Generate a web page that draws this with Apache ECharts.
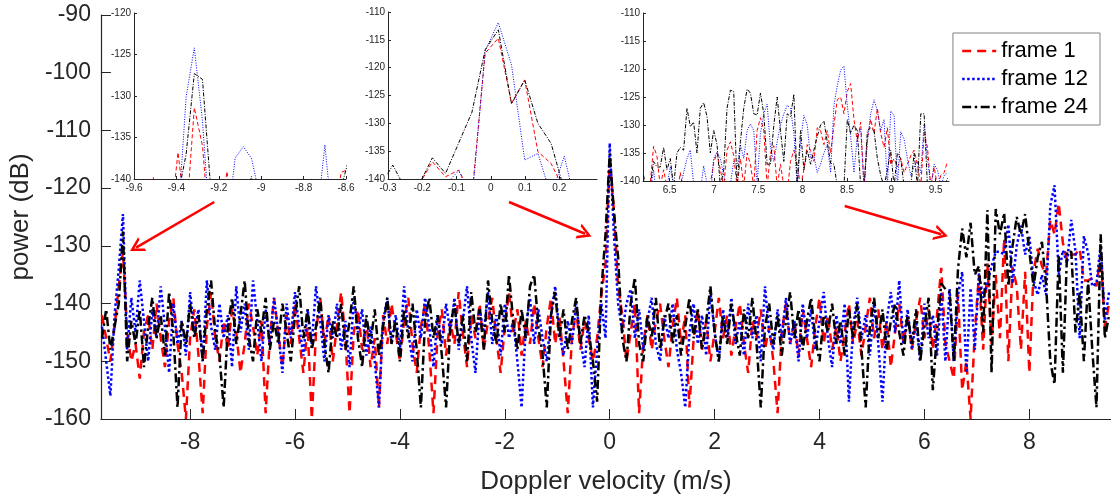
<!DOCTYPE html>
<html><head><meta charset="utf-8">
<script src="https://cdn.jsdelivr.net/npm/echarts@6/dist/echarts.min.js"></script>
<style>html,body{margin:0;padding:0;background:#fff}#c{width:1111px;height:500px}</style>
</head><body><div id="c"></div>
<script>
// ---------- main plot data (x = mainStart + i*mainStep) ----------
const mainStart = -9.68, mainStep = 0.08;
const frame1Main = [
-142,-146,-150,-144,-137,-131,-145,-150,-147,-153,
-145,-142,-148,-140,-146,-151,-143,-139,-147,-152,
-160,-146,-141,-149,-159,-144,-138,-146,-150,-143,
-148,-141,-145,-152,-147,-140,-144,-149,-143,-159,
-146,-139,-145,-151,-142,-147,-140,-146,-152,-144,
-160,-145,-139,-147,-142,-150,-144,-138,-146,-159,
-145,-141,-148,-143,-151,-146,-158,-142,-147,-140,
-145,-150,-143,-139,-147,-152,-144,-140,-148,-159,
-145,-141,-149,-143,-147,-138,-145,-151,-142,-146,
-140,-148,-143,-139,-146,-152,-144,-138,-145,-141,
-149,-143,-147,-140,-146,-151,-144,-139,-147,-142,
-150,-159,-146,-141,-148,-143,-146,-150,-146,-138.5,
-133,-115,-124,-137,-142,-150,-145,-140,-159,-147,
-142,-148,-143,-140,-146,-151,-144,-139,-147,-142,
-158,-146,-141,-148,-143,-150,-145,-139,-146,-142,
-149,-144,-140,-147,-152,-143,-146,-141,-148,-144,
-150,-159,-145,-140,-147,-143,-149,-141,-146,-151,
-144,-139,-147,-142,-148,-144,-150,-145,-140,-147,
-143,-149,-144,-139,-146,-141,-148,-143,-151,-145,
-140,-147,-142,-148,-143,-139,-146,-141,-148,-142,
-133.8,-147,-150,-153,-138.5,-155,-150,-160,-145,-135,
-148,-133,-147,-135,-146,-128.7,-150,-133.7,-137,-148,
-134.5,-152,-134.5,-130.5,-133.5,-135,-125.5,-128,-122.6,-129.5,
-132.5,-131.5,-131.5,-130.5,-136,-136,-135.5,-137,-131.5,-144,
-140];
const frame12Main = [
-144,-150,-156,-142,-134,-124.5,-148,-139,-145,-136,
-143,-150,-141,-146,-137,-144,-152,-140,-147,-143,
-149,-138,-145,-141,-150,-136,-144,-148,-140,-146,
-142,-151,-137,-145,-140,-148,-136,-143,-150,-141,
-147,-139,-145,-152,-140,-146,-138,-144,-149,-141,
-147,-137,-143,-150,-142,-146,-140,-148,-143,-151,
-139,-145,-141,-149,-144,-150,-158,-143,-139,-147,
-142,-148,-137,-145,-150,-141,-146,-139,-144,-151,
-142,-147,-140,-145,-139,-148,-143,-137,-146,-152,
-141,-145,-138,-147,-142,-149,-140,-146,-143,-150,
-158,-144,-139,-147,-141,-146,-150,-142,-137,-145,
-149,-143,-147,-140,-146,-151,-142,-158,-148,-140,
-146,-112.2,-128,-140,-145,-140,-137.5,-146,-141,-148,
-143,-139,-147,-150,-142,-146,-140,-148,-152,-158,
-145,-140,-147,-142,-149,-138,-145,-150,-141,-146,
-139,-147,-143,-149,-140,-146,-142,-150,-137,-145,
-148,-141,-146,-139,-147,-143,-150,-140,-146,-141,
-148,-143,-138,-146,-151,-142,-147,-140,-157,-144,
-139,-146,-142,-149,-140,-147,-157,-143,-138,-145,
-136,-147,-141,-148,-143,-150,-140,-146,-142,-149,
-138,-150,-137.5,-150,-138.5,-134.5,-152,-137.3,-148,-134.8,
-139,-136.5,-133.5,-131,-131,-131.5,-126.3,-136.5,-130,-126.5,
-131.5,-128.3,-136,-138.5,-135,-138.5,-123,-119.5,-135,-130.8,
-133,-125.5,-131,-146,-128.3,-131.2,-137,-136.5,-129.8,-143,
-138];
const frame24Main = [
-146,-141,-148,-144,-140,-127.5,-150,-143,-147,-141,
-151,-144,-139,-146,-142,-149,-138,-145,-158,-143,
-147,-140,-146,-142,-150,-141,-136,-145,-149,-158,
-144,-139,-147,-142,-136,-146,-150,-141,-145,-139,
-148,-143,-147,-140,-145,-150,-142,-137,-146,-141,
-148,-144,-139,-147,-152,-143,-146,-140,-148,-143,
-137,-146,-151,-142,-147,-141,-149,-144,-139,-147,
-143,-150,-141,-146,-140,-148,-158,-143,-139,-146,
-142,-149,-158,-144,-140,-147,-142,-150,-138,-145,
-141,-148,-136,-143,-147,-140,-145,-135,-143,-148,
-141,-146,-137,-135,-144,-149,-158,-142,-138,-146,
-141,-148,-143,-139,-147,-142,-145,-150,-157,-137.7,
-128,-114,-124,-132,-146,-150,-140,-135.5,-147,-150,
-142,-146,-139,-148,-143,-140,-147,-142,-149,-144,
-139,-146,-141,-148,-143,-137,-145,-150,-142,-147,
-140,-145,-149,-141,-146,-139,-147,-158,-144,-140,
-147,-142,-149,-143,-138,-146,-141,-148,-143,-139,
-146,-150,-142,-145,-140,-147,-143,-149,-141,-146,
-140,-148,-158,-144,-139,-146,-141,-148,-143,-140,
-145,-149,-142,-147,-141,-150,-144,-139,-155,-145,
-136.5,-137.5,-138,-150,-134,-127,-132,-126,-135,-133.5,
-145,-123.8,-152,-123.6,-128,-124.3,-137,-130,-125,-128,
-124.5,-131,-137,-132,-129.3,-136.8,-150,-154,-131.5,-152,
-131,-131,-145,-138,-150,-136,-148,-158,-128,-146,
-142];

// ---------- inset 1 (around -9.3 m/s) ----------
const in1Start = -9.6235, in1Step = 0.0385;
const frame1In1  = [-150,-147,-144,-139.8,-148,-146,-136.8,-145,-131.4,-136,-148,-146,-139.1,-147,-152,-149,-155,-150,-147,-153,-149,-151,-148,-152,-147,-145,-139.2,-138.8];
const frame12In1 = [-150,-152,-148,-155,-147,-150,-145,-130.1,-124.2,-133,-147,-152,-146,-137.5,-136.1,-137.5,-142,-150,-155,-148,-151,-146,-153,-145,-135.9,-146,-150,-148];
const frame24In1 = [-148,-151,-146,-150,-153,-147,-142,-137,-127.3,-128,-141,-150,-147,-145,-143,-139.7,-146,-150,-148,-155,-149,-152,-147,-150,-153,-147,-141,-137.4];

// ---------- inset 2 (around 0 m/s) ----------
const in2Start = -0.3245, in2Step = 0.0385;
const frame1In2  = [-150,-147,-145,-141,-136.9,-139.6,-138.4,-143,-117.4,-114.7,-126.4,-122.2,-135.1,-137.2,-142,-148,-150,-146];
const frame12In2 = [-152,-148,-150,-146,-145,-141,-138.5,-144,-117,-111.9,-119.5,-136.6,-135.4,-143,-135.9,-146,-150,-148];
const frame24In2 = [-141.5,-137.5,-142,-141,-136.2,-139,-133.5,-128,-116.8,-113.2,-126.5,-122.2,-130,-133.6,-142,-150,-148,-152];

// ---------- inset 3 (6.2 .. 9.65 m/s) ----------
const in3Start = 6.2062, in3Step = 0.03766;
const frame1In3 = [
-142,-141,-140.5,-133.8,-135.5,-141,-138,-141,-144,-146,
-143,-138.5,-142,-145,-148,-144,-146,-143,-145,-141,
-140.5,-136.7,-135,-138,-141,-134.5,-133,-135.5,-141,-136,
-141,-135,-137,-141,-131,-128.7,-131,-141,-135,-133.7,
-141,-137,-141,-142,-136.5,-134.5,-137,-141,-138,-133.5,
-134.5,-136.5,-130.5,-131,-133.5,-131,-135,-130,-125.5,-125,
-128,-124,-122.6,-129,-133,-129.5,-141,-132.5,-129,-131.5,
-127,-131.5,-134,-130.5,-137,-136,-137.5,-136,-138.5,-137,
-135.5,-134.5,-137,-141,-131.5,-134,-141,-137.5,-141,-139,
-138.5,-136.5];
const frame12In3 = [
-145,-148,-142,-138,-143,-146,-144,-141,-137.5,-141,
-144,-141,-138.5,-136,-134.5,-140.5,-145,-142,-137.3,-140.5,
-143,-136,-134.8,-136,-139,-141,-140.5,-136.5,-137.5,-133.5,
-136,-131,-129.8,-131,-140.5,-131.5,-128,-126.3,-134,-136.5,
-133,-130,-128,-126.5,-127,-131.5,-141,-133,-128.3,-130,
-136,-135.5,-138.5,-137,-135,-133.5,-138.5,-126.5,-123,-120.2,
-119.5,-126.5,-132,-138.5,-132,-130.8,-141,-133,-128,-125.5,
-127.5,-131,-129,-141,-127.5,-128.3,-141,-131.2,-132.5,-136,
-139,-137.5,-136.5,-138.5,-129.8,-136,-141,-137,-138,-141,
-139,-138.5];
const frame24In3 = [
-139,-142,-141,-136.5,-137.5,-137.5,-134,-138,-136,-141,
-135,-134,-134.5,-127,-130.3,-129.5,-135,-127,-126,-128.5,
-135,-131,-133.5,-141,-138,-127,-123.8,-124,-141,-133,
-127,-123.6,-124.3,-128,-128.2,-124.3,-128,-137,-137,-130,
-125,-131,-136.5,-128,-128.5,-124.5,-141,-131,-138,-134.5,
-137,-134.5,-132,-130,-129.3,-133,-136.8,-137,-141,-142,
-141,-129,-131.5,-130,-131,-141,-142,-131,-130.5,-131,
-136,-139,-141,-138,-134.5,-141,-135,-136,-141,-143,
-141,-135,-141,-128,-128,-141,-144,-145,-143,-142,
-141,-139.5];

// ---------- tick labels ----------
const mainXTicks = [-8,-6,-4,-2,0,2,4,6,8];
const in1XTicks = [-9.6,-9.4,-9.2,-9,-8.8,-8.6];
const in2XTicks = [-0.3,-0.2,-0.1,0,0.1,0.2];
const in3XTicks = [6.5,7,7.5,8,8.5,9,9.5];
const legendNames = ['frame 1','frame 12','frame 24'];
// annotation arrows [x0,y0,x1,y1] in main-axis data units
const arrowLines = [
  [-7.54,-122.4,-9.03,-130.3],
  [-1.92,-122.4,-0.47,-127.9],
  [4.48,-123.1,6.32,-128.0]
];

const axisColor = '#262626';
const font = '"Liberation Sans", Arial, Helvetica, sans-serif';
const colors = ['#ff0000','#0000ff','#000000'];

function toXY(vals, start, step){ return vals.map((v,i)=>[+(start+i*step).toFixed(5), v]); }

function xAx(grid, min, max, ticks, main){
  return {gridIndex:grid, type:'value', min:min, max:max,
    axisLine:{show:true,onZero:false,lineStyle:{color:axisColor,width:main?1.2:1}},
    axisTick:{show:true,inside:true,length:main?10:3,customValues:ticks,lineStyle:{color:axisColor}},
    axisLabel:{customValues:ticks,fontSize:main?23:10,color:axisColor,margin:main?12:4,fontFamily:font},
    splitLine:{show:false},
    name: main ? 'Doppler velocity (m/s)' : '',
    nameLocation:'middle', nameGap:50,
    nameTextStyle:{fontSize:26,color:axisColor,fontFamily:font}};
}
function yAx(grid, min, max, interval, main){
  return {gridIndex:grid, type:'value', min:min, max:max, interval:interval,
    axisLine:{show:true,onZero:false,lineStyle:{color:axisColor,width:main?1.2:1}},
    axisTick:{show:true,inside:true,length:main?10:3,lineStyle:{color:axisColor}},
    axisLabel:{fontSize:main?23:10,color:axisColor,margin:main?10:3,fontFamily:font},
    splitLine:{show:false},
    name: main ? 'power (dB)' : '',
    nameLocation:'middle', nameGap:64, nameRotate:90,
    nameTextStyle:{fontSize:26,color:axisColor,fontFamily:font}};
}
const mainDash = [[9,6],[2.5,2.5],[9,3.5,2.5,3.5]];
const insetDash = [[4,2.5],[1,1.5],[4,1.5,1,1.5]];
function ser(k, vals, start, step, axis){
  const main = axis === 0;
  return {name:legendNames[k], type:'line', xAxisIndex:axis, yAxisIndex:axis,
    data:toXY(vals,start,step), showSymbol:false, symbol:'none', clip:true,
    z: 2 + k, silent:true,
    lineStyle:{color:colors[k], width: main?2.5:1, type: main?mainDash[k]:insetDash[k], cap:'butt'},
    itemStyle:{color:colors[k]}};
}

const chart = echarts.init(document.getElementById('c'), null, {renderer:'canvas'});
chart.setOption({
  animation:false,
  backgroundColor:'#ffffff',
  grid:[
    {left:100, top:15, width:1011, height:405},
    {left:134, top:13, width:212, height:166},
    {left:388, top:12, width:209, height:167},
    {left:643, top:13, width:306, height:168}
  ],
  xAxis:[
    xAx(0,-9.7,9.557,mainXTicks,true),
    xAx(1,-9.6,-8.6,in1XTicks,false),
    xAx(2,-0.3,0.31,in2XTicks,false),
    xAx(3,6.2,9.65,in3XTicks,false)
  ],
  yAxis:[
    yAx(0,-160,-90,10,true),
    yAx(1,-140,-120,5,false),
    yAx(2,-140,-110,5,false),
    yAx(3,-140,-110,5,false)
  ],
  legend:{data:legendNames, orient:'vertical', right:11, top:33,
    itemWidth:34, itemHeight:14, itemGap:6, padding:[7,12,7,8],
    borderColor:'#808080', borderWidth:1, backgroundColor:'#ffffff',
    selectedMode:false,
    itemStyle:{opacity:0},
    lineStyle:{width:2.5},
    textStyle:{fontSize:22,color:'#000',fontFamily:font}},
  series:[
    ser(0,frame1Main,mainStart,mainStep,0),
    ser(1,frame12Main,mainStart,mainStep,0),
    ser(2,frame24Main,mainStart,mainStep,0),
    ser(0,frame1In1,in1Start,in1Step,1),
    ser(1,frame12In1,in1Start,in1Step,1),
    ser(2,frame24In1,in1Start,in1Step,1),
    ser(0,frame1In2,in2Start,in2Step,2),
    ser(1,frame12In2,in2Start,in2Step,2),
    ser(2,frame24In2,in2Start,in2Step,2),
    ser(0,frame1In3,in3Start,in3Step,3),
    ser(1,frame12In3,in3Start,in3Step,3),
    ser(2,frame24In3,in3Start,in3Step,3),
    {name:'arrows', type:'line', xAxisIndex:0, yAxisIndex:0, data:[], silent:true, z:10,
      markLine:{silent:true, animation:false,
        symbol:['none','path://M0,10 L5,0 L10,10 L8.2,10 L5,3.6 L1.8,10 Z'],
        symbolSize:[16,14],
        lineStyle:{color:'#ff0000', width:2.5, type:'solid'},
        label:{show:false},
        emphasis:{disabled:true},
        data: arrowLines.map(a=>[{coord:[a[0],a[1]]},{coord:[a[2],a[3]]}])}}
  ]
});
</script>
</body></html>
